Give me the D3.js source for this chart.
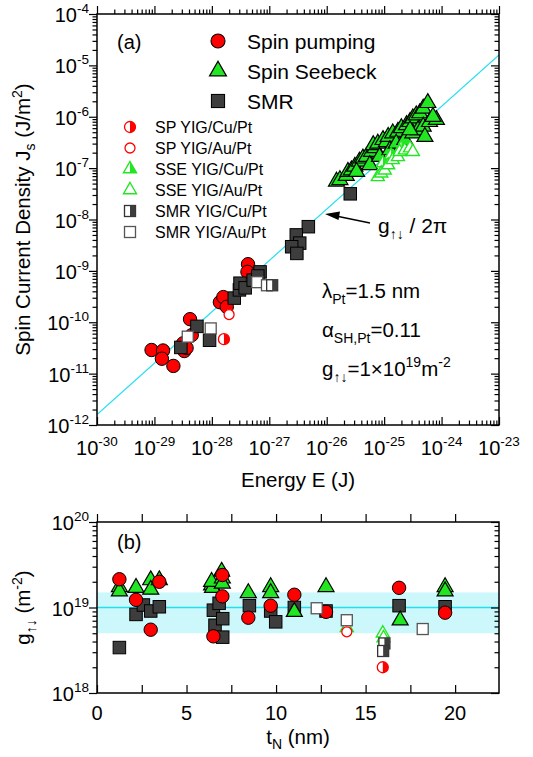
<!DOCTYPE html>
<html>
<head>
<meta charset="utf-8">
<script src="https://cdn.jsdelivr.net/npm/d3@7"></script>
<style>
  body { margin: 0; background: #fff; }
  svg { font-family: "Liberation Sans", Arial, Helvetica, sans-serif; }
</style>
</head>
<body>
<div id="chart"></div>
<script>
// ---------------- data, panel (a): log10 E (J) and log10 Js (J/m^2) ----------------
const spLogE  = [-29.05, -28.85, -28.87, -28.67, -28.50, -28.48, -28.44, -28.38, -28.35, -27.86, -27.80, -27.74, -27.37, -27.38];
const spLogJ  = [-10.54, -10.55, -10.71, -10.85, -10.41, -10.56, -10.50, -9.94, -10.25, -9.61, -9.51, -9.70, -8.87, -9.02];
const smrLogE = [-28.54, -28.26, -28.04, -27.61, -27.52, -27.51, -27.42, -27.28, -27.16, -27.20, -26.32, -26.53, -26.47, -26.61, -26.52, -25.59];
const smrLogJ = [-10.49, -10.08, -10.35, -9.53, -9.37, -9.24, -9.33, -9.18, -9.02, -9.10, -8.14, -8.30, -8.46, -8.53, -8.66, -7.50];
const sseLogE = [-25.83, -25.77, -25.66, -25.63, -25.57, -25.51, -25.43, -25.37, -25.31, -25.22, -25.16, -25.19, -25.11, -25.02,
                 -24.96, -24.93, -24.85, -24.76, -24.70, -24.61, -24.55, -24.50, -24.44, -24.38, -24.32, -24.24,
                 -25.48, -25.25, -25.08, -24.90, -24.79, -24.64, -24.50, -24.41, -24.32, -24.21, -24.09, -24.15, -24.29, -24.55];
const sseLogJ = [-7.26, -7.23, -7.15, -7.07, -7.04, -6.97, -6.87, -6.81, -6.78, -6.68, -6.61, -6.55, -6.52, -6.45,
                 -6.49, -6.39, -6.32, -6.29, -6.22, -6.16, -6.10, -6.03, -5.97, -5.93, -5.84, -5.73,
                 -7.07, -6.94, -6.78, -6.65, -6.52, -6.45, -6.32, -6.26, -6.19, -6.10, -6.06, -6.00, -6.39, -6.26];
const spAuLogE  = [-27.70];
const spAuLogJ  = [-9.85];
const spCuLogE  = [-27.79];
const spCuLogJ  = [-10.33];
const smrAuLogE = [-28.42, -28.02, -27.21, -27.04];
const smrAuLogJ = [-10.28, -10.12, -9.22, -9.28];
const smrCuLogE = [-26.95];
const smrCuLogJ = [-9.28];
const sseAuLogE = [-25.11, -25.05, -24.99, -24.93, -24.85, -24.76, -24.73, -24.64, -24.55, -24.50];
const sseAuLogJ = [-7.17, -7.10, -7.04, -6.94, -6.84, -6.78, -6.68, -6.65, -6.61, -6.68];
const sseCuLogE = [-25.02, -24.88, -24.70];
const sseCuLogJ = [-6.90, -6.75, -6.60];

// ---------------- data, panel (b): tN (nm) and g (units of 1e19 m^-2) ----------------
const spT   = [1.25, 2.18, 3.0, 3.48, 6.5, 7.0, 7.0, 8.45, 9.70, 11.02, 12.79, 16.87, 19.44];
const spG   = [2.14, 1.23, 0.55, 2.0, 0.46, 2.4, 1.35, 0.76, 1.05, 1.41, 0.89, 1.70, 0.87];
const smrT  = [1.25, 2.18, 2.59, 3.0, 3.48, 6.5, 6.82, 6.59, 7.02, 7.02, 8.51, 9.70, 9.98, 11.02, 12.79, 16.87, 19.44];
const smrG  = [0.34, 0.83, 1.07, 0.91, 1.02, 0.93, 1.12, 0.62, 0.74, 0.45, 1.05, 0.91, 0.68, 1.0, 0.91, 1.05, 1.02];
const sseT  = [1.25, 1.25, 2.18, 3.0, 3.0, 3.48, 6.4, 6.45, 6.4, 6.96, 7.0, 7.0, 8.45, 9.70, 9.70, 11.02, 12.79, 16.93, 19.44, 19.44];
const sseG  = [1.74, 1.55, 1.70, 2.09, 1.62, 2.09, 1.82, 1.70, 2.0, 2.63, 2.19, 1.91, 1.48, 1.74, 1.48, 0.89, 1.74, 0.71, 1.74, 1.55];
const spAuT = [13.95], spAuG = [0.52];
const spCuT = [15.96], spCuG = [0.20];
const smrAuT = [12.27, 13.95, 18.19], smrAuG = [0.98, 0.71, 0.56];
const smrCuT = [16.05, 15.98], smrCuG = [0.38, 0.31];
const sseAuT = [13.95, 15.96, 16.0], sseAuG = [0.58, 0.50, 0.44];

// model parameters
const gMix = 1e19;            // g_updown (m^-2)
const bandLo = 0.5, bandHi = 1.5;   // shaded band (units of 1e19)

// decades / tick labels
const xDecA = d3.range(-30, -22);
const yDecA = d3.range(-12, -3);
const yDecB = [18, 19, 20];
const xTicksB = [0, 5, 10, 15, 20];

// ---------------- layout ----------------
const W = 533, H = 757;
const left = 97, right = 499;
const aTop = 14, aBot = 425, bTop = 522, bBot = 693;
const RED = "#ff0000", GREEN = "#22e622", DARK = "#3d3d3d", CYAN = "#22e0f0";

const svg = d3.select("#chart").append("svg").attr("width", W).attr("height", H);

const xA = d3.scaleLog().domain([1e-30, 1e-23]).range([left, right]);
const yA = d3.scaleLog().domain([1e-12, 1e-4]).range([aBot, aTop]);
const xB = d3.scaleLinear().domain([0, 22.45]).range([left, right]);
const yB = d3.scaleLog().domain([1e18, 1e20]).range([bBot, bTop]);

function minors(decs) {
  const out = [];
  decs.slice(0, -1).forEach(e => { for (let m = 2; m <= 9; m++) out.push(m * Math.pow(10, e)); });
  return out;
}
const p10 = e => Math.pow(10, e);

// axis ticks all pointing inwards, on every side of the frame
function ticks(g, scale, orient, at, values, size) {
  const ax = orient === "left" ? d3.axisLeft(scale) : orient === "right" ? d3.axisRight(scale)
           : orient === "top" ? d3.axisTop(scale) : d3.axisBottom(scale);
  const node = g.append("g")
    .attr("transform", orient === "left" || orient === "right" ? `translate(${at},0)` : `translate(0,${at})`)
    .call(ax.tickValues(values).tickSizeInner(-size).tickSizeOuter(0).tickFormat(""));
  node.select(".domain").remove();
  node.selectAll("line").attr("stroke", "#000").attr("stroke-width", 1.2);
}

function powLabel(sel, exp) {
  sel.append("tspan").text("10");
  sel.append("tspan").attr("dy", -9).attr("font-size", 13.5).text(exp);
}

// ---------------- markers ----------------
function triPath(s) { const h = s * 0.866; return `M0,${-2 * h / 3}L${s / 2},${h / 3}L${-s / 2},${h / 3}Z`; }
function triRight(s) { const h = s * 0.866; return `M0,${-2 * h / 3}L${s / 2},${h / 3}L0,${h / 3}Z`; }
function halfC(r) { return `M0,${-r}A${r},${r} 0 0 1 0,${r}Z`; }

function mark(g, kind, x, y) {
  const m = g.append("g").attr("transform", `translate(${x},${y})`);
  if (kind === "sp") m.append("circle").attr("r", 6.7).attr("fill", RED).attr("stroke", "#000").attr("stroke-width", 1);
  if (kind === "spAu") m.append("circle").attr("r", 5).attr("fill", "#fff").attr("stroke", RED).attr("stroke-width", 1.3);
  if (kind === "spCu") {
    m.append("circle").attr("r", 5.5).attr("fill", "#fff").attr("stroke", RED).attr("stroke-width", 1.3);
    m.append("path").attr("d", halfC(5.5)).attr("fill", RED);
  }
  if (kind === "sse") m.append("path").attr("d", triPath(16)).attr("fill", GREEN).attr("stroke", "#000").attr("stroke-width", 1.2);
  if (kind === "sseAu") m.append("path").attr("d", triPath(13)).attr("fill", "#fff").attr("stroke", GREEN).attr("stroke-width", 1.4);
  if (kind === "sseCu") {
    m.append("path").attr("d", triPath(13)).attr("fill", "#fff").attr("stroke", GREEN).attr("stroke-width", 1.4);
    m.append("path").attr("d", triRight(13)).attr("fill", GREEN);
  }
  if (kind === "smr") m.append("rect").attr("x", -6.25).attr("y", -6.25).attr("width", 12.5).attr("height", 12.5)
    .attr("fill", DARK).attr("stroke", "#000").attr("stroke-width", 1);
  if (kind === "smrAu") m.append("rect").attr("x", -5.5).attr("y", -5.5).attr("width", 11).attr("height", 11)
    .attr("fill", "#fff").attr("stroke", "#555").attr("stroke-width", 1.3);
  if (kind === "smrCu") {
    m.append("rect").attr("x", -5.5).attr("y", -5.5).attr("width", 11).attr("height", 11)
      .attr("fill", "#fff").attr("stroke", "#333").attr("stroke-width", 1.3);
    m.append("rect").attr("x", 0).attr("y", -5.5).attr("width", 5.5).attr("height", 11).attr("fill", DARK);
  }
}

function seriesA(g, kind, lx, ly) { lx.forEach((v, i) => mark(g, kind, xA(p10(v)), yA(p10(ly[i])))); }
function seriesB(g, kind, ts, gs) { ts.forEach((v, i) => mark(g, kind, xB(v), yB(gs[i] * 1e19))); }

// =============== panel (a) ===============
const pa = svg.append("g");
pa.append("clipPath").attr("id", "clipA").append("rect")
  .attr("x", left).attr("y", aTop).attr("width", right - left).attr("height", aBot - aTop);

// g/2pi line
const eEnds = [1e-30, 1e-23];
pa.append("path")
  .attr("clip-path", "url(#clipA)")
  .attr("d", d3.line().x(d => xA(d)).y(d => yA(gMix / (2 * Math.PI) * d))(eEnds))
  .attr("fill", "none").attr("stroke", CYAN).attr("stroke-width", 1.2);

const ma = pa.append("g");
seriesA(ma, "sp", spLogE, spLogJ);
seriesA(ma, "smr", smrLogE, smrLogJ);
seriesA(ma, "sse", sseLogE, sseLogJ);
seriesA(ma, "sseCu", sseCuLogE, sseCuLogJ);
seriesA(ma, "sseAu", sseAuLogE, sseAuLogJ);
seriesA(ma, "smrAu", smrAuLogE, smrAuLogJ);
seriesA(ma, "smrCu", smrCuLogE, smrCuLogJ);
seriesA(ma, "spAu", spAuLogE, spAuLogJ);
seriesA(ma, "spCu", spCuLogE, spCuLogJ);

// ticks
ticks(pa, xA, "bottom", aBot, xDecA.map(p10), 8);
ticks(pa, xA, "top", aTop, xDecA.map(p10), -8);
ticks(pa, xA, "bottom", aBot, minors(xDecA), 4.5);
ticks(pa, xA, "top", aTop, minors(xDecA), -4.5);
ticks(pa, yA, "left", left, yDecA.map(p10), -8);
ticks(pa, yA, "right", right, yDecA.map(p10), 8);
ticks(pa, yA, "left", left, minors(yDecA), -4.5);
ticks(pa, yA, "right", right, minors(yDecA), 4.5);
pa.append("rect").attr("x", left).attr("y", aTop).attr("width", right - left).attr("height", aBot - aTop)
  .attr("fill", "none").attr("stroke", "#000").attr("stroke-width", 1.5);

// tick labels
xDecA.forEach(e => pa.append("text").attr("x", xA(p10(e))).attr("y", aBot + 30)
  .attr("text-anchor", "middle").attr("font-size", 20).call(powLabel, String(e)));
yDecA.forEach(e => pa.append("text").attr("x", left - 8).attr("y", yA(p10(e)) + 8)
  .attr("text-anchor", "end").attr("font-size", 20).call(powLabel, String(e)));

// axis titles
pa.append("text").attr("x", (left + right) / 2).attr("y", 487).attr("text-anchor", "middle")
  .attr("font-size", 20.5).text("Energy E (J)");
const ty = pa.append("text").attr("transform", `translate(30,${(aTop + aBot) / 2}) rotate(-90)`)
  .attr("text-anchor", "middle").attr("font-size", 20.5);
ty.append("tspan").text("Spin Current Density J");
ty.append("tspan").attr("font-size", 14).attr("dy", 5).text("s");
ty.append("tspan").attr("dy", -5).text(" (J/m");
ty.append("tspan").attr("font-size", 14).attr("dy", -8).text("2");
ty.append("tspan").attr("dy", 8).text(")");

pa.append("text").attr("x", 117).attr("y", 49).attr("font-size", 20).text("(a)");

// main legend
const bigLeg = [["sp", "Spin pumping"], ["sse", "Spin Seebeck"], ["smr", "SMR"]];
bigLeg.forEach((d, i) => {
  const cy = 41 + i * 30;
  const lg = pa.append("g");
  lg.append("g").attr("transform", `translate(218,${cy}) scale(1.05)`).call(s => mark(s, d[0], 0, 0));
  lg.append("text").attr("x", 247).attr("y", cy + 8).attr("font-size", 21).text(d[1]);
});

// sample legend
const smallLeg = [["spCu", "SP YIG/Cu/Pt"], ["spAu", "SP YIG/Au/Pt"], ["sseCu", "SSE YIG/Cu/Pt"],
                  ["sseAu", "SSE YIG/Au/Pt"], ["smrCu", "SMR YIG/Cu/Pt"], ["smrAu", "SMR YIG/Au/Pt"]];
smallLeg.forEach((d, i) => {
  const cy = 127 + i * 21;
  mark(pa, d[0], 130, cy);
  pa.append("text").attr("x", 155).attr("y", cy + 6).attr("font-size", 16).text(d[1]);
});

// annotations
const arrow = pa.append("g");
arrow.append("line").attr("x1", 370).attr("y1", 223).attr("x2", 336).attr("y2", 216)
  .attr("stroke", "#000").attr("stroke-width", 1.3);
arrow.append("path").attr("d", "M325,214 L340,211.5 L338.5,220 Z").attr("fill", "#000");

const tg = pa.append("text").attr("x", 378).attr("y", 233).attr("font-size", 21);
tg.append("tspan").text("g");
tg.append("tspan").attr("font-size", 14).attr("dy", 6).text("↑↓");
tg.append("tspan").attr("dy", -6).text(" / 2π");

const t1 = pa.append("text").attr("x", 322).attr("y", 298).attr("font-size", 20.5);
t1.append("tspan").text("λ");
t1.append("tspan").attr("font-size", 14).attr("dy", 6).text("Pt");
t1.append("tspan").attr("dy", -6).text("=1.5 nm");
const t2 = pa.append("text").attr("x", 322).attr("y", 337).attr("font-size", 20.5);
t2.append("tspan").text("α");
t2.append("tspan").attr("font-size", 14).attr("dy", 6).text("SH,Pt");
t2.append("tspan").attr("dy", -6).text("=0.11");
const t3 = pa.append("text").attr("x", 322).attr("y", 376).attr("font-size", 20.5);
t3.append("tspan").text("g");
t3.append("tspan").attr("font-size", 14).attr("dy", 6).text("↑↓");
t3.append("tspan").attr("dy", -6).text("=1×10");
t3.append("tspan").attr("font-size", 14).attr("dy", -9).text("19");
t3.append("tspan").attr("dy", 9).text("m");
t3.append("tspan").attr("font-size", 14).attr("dy", -9).text("-2");

// =============== panel (b) ===============
const pb = svg.append("g");
pb.append("rect").attr("x", left).attr("width", right - left)
  .attr("y", yB(bandHi * 1e19)).attr("height", yB(bandLo * 1e19) - yB(bandHi * 1e19))
  .attr("fill", "#ccf7fb");
pb.append("line").attr("x1", left).attr("x2", right).attr("y1", yB(gMix)).attr("y2", yB(gMix))
  .attr("stroke", CYAN).attr("stroke-width", 1.5);

const mb = pb.append("g");
seriesB(mb, "smr", smrT, smrG);
seriesB(mb, "sse", sseT, sseG);
seriesB(mb, "sp", spT, spG);
seriesB(mb, "sseAu", sseAuT, sseAuG);
seriesB(mb, "smrAu", smrAuT, smrAuG);
seriesB(mb, "smrCu", smrCuT, smrCuG);
seriesB(mb, "spAu", spAuT, spAuG);
seriesB(mb, "spCu", spCuT, spCuG);

ticks(pb, xB, "bottom", bBot, d3.range(0, 22.5, 2.5), 8);
ticks(pb, xB, "top", bTop, d3.range(0, 22.5, 2.5), -8);
ticks(pb, yB, "left", left, yDecB.map(p10), -8);
ticks(pb, yB, "right", right, yDecB.map(p10), 8);
ticks(pb, yB, "left", left, minors(yDecB), -4.5);
ticks(pb, yB, "right", right, minors(yDecB), 4.5);
pb.append("rect").attr("x", left).attr("y", bTop).attr("width", right - left).attr("height", bBot - bTop)
  .attr("fill", "none").attr("stroke", "#000").attr("stroke-width", 1.5);

xTicksB.forEach(t => pb.append("text").attr("x", xB(t)).attr("y", bBot + 27)
  .attr("text-anchor", "middle").attr("font-size", 20).text(t));
yDecB.forEach(e => pb.append("text").attr("x", left - 8).attr("y", yB(p10(e)) + 8)
  .attr("text-anchor", "end").attr("font-size", 20).call(powLabel, String(e)));

const tb = pb.append("text").attr("x", (left + right) / 2).attr("y", 744).attr("text-anchor", "middle").attr("font-size", 20.5);
tb.append("tspan").text("t");
tb.append("tspan").attr("font-size", 14).attr("dy", 5).text("N");
tb.append("tspan").attr("dy", -5).text(" (nm)");

const tyb = pb.append("text").attr("transform", `translate(30,${(bTop + bBot) / 2}) rotate(-90)`)
  .attr("text-anchor", "middle").attr("font-size", 20.5);
tyb.append("tspan").text("g");
tyb.append("tspan").attr("font-size", 14).attr("dy", 6).text("↑↓");
tyb.append("tspan").attr("dy", -6).text(" (m");
tyb.append("tspan").attr("font-size", 14).attr("dy", -8).text("-2");
tyb.append("tspan").attr("dy", 8).text(")");

pb.append("text").attr("x", 117).attr("y", 549).attr("font-size", 20).text("(b)");
</script>
</body>
</html>
